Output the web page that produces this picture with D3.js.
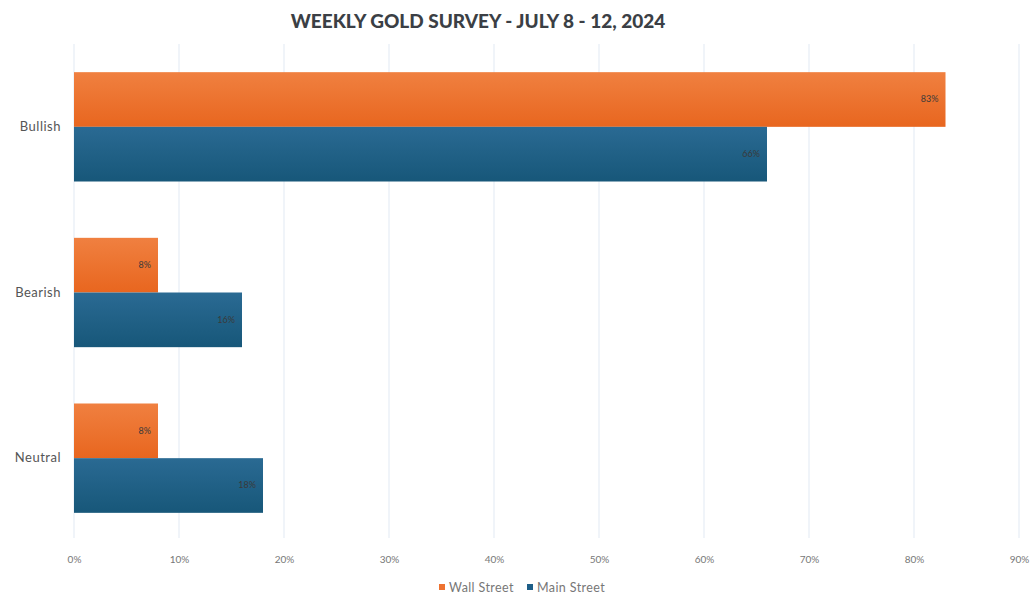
<!DOCTYPE html>
<html><head><meta charset="utf-8">
<script src="https://cdn.jsdelivr.net/npm/d3@7"></script>
<style>body{margin:0;background:#fff;}svg{display:block;}</style>
</head><body>
<svg id="c" width="1035" height="599"></svg>
<script>
const categories = ["Bullish", "Bearish", "Neutral"];
const seriesNames = ["Wall Street", "Main Street"];
const wallStreet = [83, 8, 8];
const mainStreet = [66, 16, 18];
const tickValues = [0, 10, 20, 30, 40, 50, 60, 70, 80, 90];
const title = "WEEKLY GOLD SURVEY - JULY 8 - 12, 2024";

const colors = {"Wall Street": "#EE7230", "Main Street": "#1D5E87"};
const svg = d3.select("#c");
const defs = svg.append("defs");
[["gw","#F08040","#E8661F"],["gm","#2A6A93","#175779"]].forEach(([id,a,b])=>{
  const g = defs.append("linearGradient").attr("id",id).attr("x1",0).attr("y1",0).attr("x2",0).attr("y2",1);
  g.append("stop").attr("offset","0%").attr("stop-color",a);
  g.append("stop").attr("offset","100%").attr("stop-color",b);
});
const fills = {"Wall Street":"url(#gw)","Main Street":"url(#gm)"};

const x = d3.scaleLinear().domain([0, 90]).range([74, 1019]);
const y = d3.scaleBand().domain(categories).range([44, 541]).paddingInner(0.34).paddingOuter(0.17);
const y1 = d3.scaleBand().domain(seriesNames).range([0, y.bandwidth()]);

// gridlines
svg.append("g").selectAll("line").data(tickValues).join("line")
  .attr("x1", d=>x(d)).attr("x2", d=>x(d)).attr("y1", 44).attr("y2", 538)
  .attr("stroke", "#E1E9F3").attr("stroke-width", 1);

// title
svg.append("text").attr("x", 478).attr("y", 28).attr("text-anchor","middle")
  .attr("font-family","Lato, 'Open Sans', sans-serif").attr("font-weight","900").attr("font-size",19)
  .attr("fill","#3b3f45").text(title);

const data = categories.map((c,i)=>({cat:c, vals:[{s:"Wall Street", v:wallStreet[i]},{s:"Main Street", v:mainStreet[i]}]}));

const groups = svg.append("g").selectAll("g").data(data).join("g")
  .attr("transform", d=>`translate(0,${y(d.cat)})`);
groups.selectAll("rect").data(d=>d.vals).join("rect")
  .attr("x", x(0)).attr("y", d=>y1(d.s)).attr("width", d=>x(d.v)-x(0)).attr("height", y1.bandwidth())
  .attr("fill", d=>fills[d.s]);
groups.selectAll("text").data(d=>d.vals).join("text")
  .attr("x", d=>x(d.v)-7).attr("y", d=>y1(d.s)+y1.bandwidth()/2+3)
  .attr("text-anchor","end").attr("font-family","Lato, sans-serif").attr("font-size",9)
  .attr("fill","#3a3a3a").text(d=>d.v+"%");

// category axis labels
svg.append("g").selectAll("text").data(categories).join("text")
  .attr("x", 61).attr("y", d=>y(d)+y.bandwidth()/2+4).attr("text-anchor","end")
  .attr("font-family","Lato, sans-serif").attr("font-size",13).attr("letter-spacing",0.5).attr("fill","#555")
  .text(d=>d);

// x axis
const xAxis = d3.axisBottom(x).tickValues(tickValues).tickFormat(d=>d+"%").tickSize(0).tickPadding(0);
const gx = svg.append("g").attr("transform","translate(0,563)").call(xAxis);
gx.select(".domain").remove();
gx.selectAll("text").attr("font-family","Lato, sans-serif").attr("font-size",10).attr("fill","#777").attr("dy","0");

// legend
const legend = svg.append("g").attr("transform","translate(439,592)");
const li = legend.selectAll("g").data(seriesNames).join("g").attr("transform",(d,i)=>`translate(${i*88},0)`);
li.append("rect").attr("x",0).attr("y",-8).attr("width",6).attr("height",6).attr("fill",d=>colors[d]);
li.append("text").attr("x",10).attr("y",0).attr("font-family","Lato, sans-serif").attr("font-size",12.5)
  .attr("letter-spacing",0.4).attr("fill","#777").text(d=>d);
</script>
</body></html>
